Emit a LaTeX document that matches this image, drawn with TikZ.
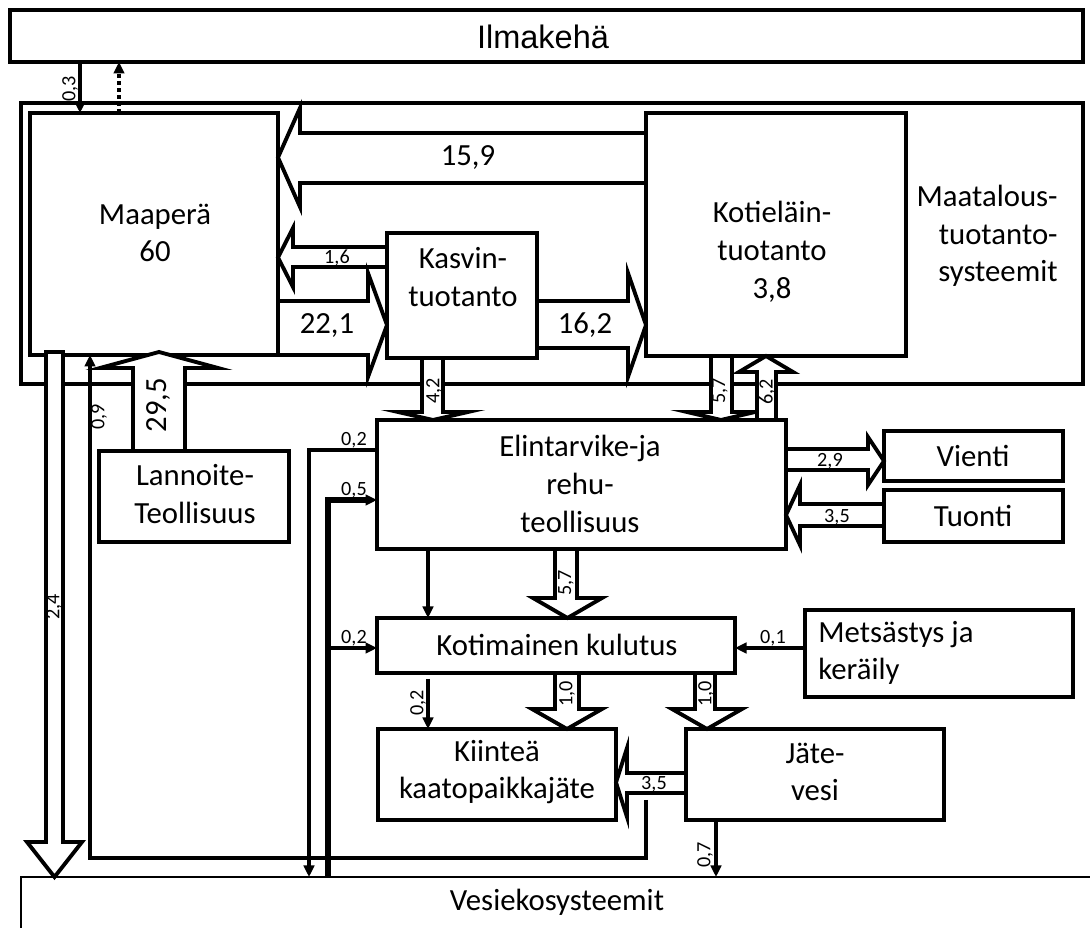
\documentclass[tikz,border=0pt]{standalone}
\usepackage{fontspec}
\setmainfont{Carlito}
\newfontfamily\arialf{Liberation Sans}
\usetikzlibrary{arrows.meta}
\newcommand{\mkbox}[6][]{%
  \pgfmathsetmacro\bxw{(#5-#3)*0.02}%
  \pgfmathsetmacro\bxh{(#6-#4)*0.02}%
  \node[box,#1, minimum width=\bxw cm, minimum height=\bxh cm] (#2) at (#3,#4) {};}
\newcommand{\hbarrow}[7]{\path[barrow] (#1,#4) -- (#2,#4) -- (#2,#6) -- (#3,{(#6+#7)/2}) -- (#2,#7) -- (#2,#5) -- (#1,#5) -- cycle;}
\newcommand{\vbarrow}[7]{\path[barrow] (#4,#1) -- (#4,#2) -- (#6,#2) -- ({(#6+#7)/2},#3) -- (#7,#2) -- (#5,#2) -- (#5,#1) -- cycle;}
\begin{document}
\begin{tikzpicture}[x=0.02cm,y=-0.02cm,
  box/.style={draw, line width=2.3pt, anchor=north west, inner sep=0pt, outer sep=0pt},
  barrow/.style={draw, fill=white, line width=2.2pt, line join=miter},
  thinarr/.style={line width=2.1pt, -{Triangle[length=2.3mm,width=2.1mm]}},
  txt/.style={font=\fontsize{17.5}{21.5}\selectfont, align=center, inner sep=0pt},
  lbl/.style={font=\fontsize{11.5}{13}\selectfont, inner sep=0pt},
  biglbl/.style={font=\fontsize{17.5}{21}\selectfont, inner sep=0pt}]
\useasboundingbox (0,0) rectangle (1090,928);
% boxes
\mkbox[line width=2.1pt]{maat}{21}{103}{1083}{384}
\mkbox[line width=2.1pt]{ilma}{10}{10}{1083}{62}
\mkbox{maap}{30}{113}{278}{355}
\mkbox{koti}{646}{113}{906}{356}
\mkbox{kasv}{387}{233}{537}{358}
\mkbox{elin}{377}{420}{786}{549}
\mkbox{vien}{884}{431}{1063}{481}
\mkbox{tuon}{884}{490}{1063}{542}
\mkbox{lann}{99}{451}{289}{542}
\mkbox{kotm}{377}{618}{735}{673}
\mkbox{mets}{805}{610}{1073}{697}
\mkbox{kiin}{378}{729}{616}{820}
\mkbox{jate}{686}{729}{944}{820}
\mkbox[line width=1.5pt]{vesi}{21}{877}{1110}{960}
% block arrows
\hbarrow{646}{300}{278}{133}{183}{108}{207}
\hbarrow{387}{293}{278}{247}{267}{228}{287}
\hbarrow{278}{368}{387}{301}{355}{273}{377}
\hbarrow{537}{628}{646}{301}{348}{273}{377}
\hbarrow{786}{868}{884}{449}{470}{437}{485}
\hbarrow{884}{800}{786}{504}{526}{485}{545}
\hbarrow{686}{627}{616}{773}{793}{748}{817}
\vbarrow{358}{412}{420}{422}{443}{398}{468}
\vbarrow{356}{412}{420}{711}{732}{687}{755}
\vbarrow{420}{372}{356}{757}{776}{739}{793}
\vbarrow{451}{368}{352}{133}{185}{100}{218}
\vbarrow{352}{842}{877}{46}{63}{27}{82}
\vbarrow{549}{598}{618}{555}{577}{533}{602}
\vbarrow{673}{709}{729}{555}{579}{532}{602}
\vbarrow{673}{709}{729}{695}{715}{672}{742}
% thin connectors
\coordinate (x03) at (80,0);
\coordinate (xdot) at (119,0);
\coordinate (s09) at (646,800);
\coordinate (c09) at (90,858);
\coordinate (c02) at (309,450);
\coordinate (c05) at (328,500);
\coordinate (c02b) at (328,648);
\coordinate (x428) at (428,0);
\coordinate (s02c) at (428,679);
\coordinate (c01) at (805,648);
\coordinate (x716) at (716,0);
\draw[thinarr] (ilma.south -| x03) -- (maap.north -| x03);
\draw[line width=2.1pt, dash pattern=on 2.3pt off 1.7pt, -{Triangle[length=2.3mm,width=2.1mm]}] (maap.north -| xdot) -- (ilma.south -| xdot);
\draw[thinarr] (s09) |- (c09) -- (maap.south -| c09);
\draw[thinarr] (elin.west |- c02) -| (vesi.north -| c02);
\draw[thinarr, line width=3pt] (vesi.north -| c05) |- (elin.west |- c05);
\draw[thinarr] (c02b) -- (kotm.west |- c02b);
\draw[thinarr] (elin.south -| x428) -- (kotm.north -| x428);
\draw[thinarr] (s02c) -- (kiin.north -| s02c);
\draw[thinarr] (mets.west |- c01) -- (kotm.east |- c01);
\draw[thinarr] (jate.south -| x716) -- (vesi.north -| x716);
% box texts
\node[txt, font=\arialf\fontsize{18.5}{21}\selectfont] (ilmat) at (543,37) {Ilmakehä};
\node[txt] (maapt) at (155,233) {Maaperä\\60};
\node[txt] (kotit) at (772,252) {Kotieläin-\\tuotanto\\3,8};
\node[txt] (kasvt) at (463,277) {Kasvin-\\tuotanto};
\node[txt, align=right, anchor=east] (maatt) at (1058,236) {Maatalous-\\tuotanto-\\systeemit};
\node[txt] (elint) at (580,484) {Elintarvike-ja\\rehu-\\teollisuus};
\node[txt] (lannt) at (195,494) {Lannoite-\\Teollisuus};
\node[txt] (vient) at (973,456) {Vienti};
\node[txt] (tuont) at (973,516) {Tuonti};
\node[txt] (kotmt) at (557,645) {Kotimainen kulutus};
\node[txt, align=left, anchor=west] (metst) at (818,653) {Metsästys ja\\keräily};
\node[txt] (kiint) at (497,772) {Kiinteä\\kaatopaikkajäte};
\node[txt] (jatet) at (815,772) {Jäte-\\vesi};
\node[txt] (vesit) at (557,902) {Vesiekosysteemit};
% flow labels
\node[biglbl] (l159) at (468,157) {15,9};
\node[biglbl] (l221) at (327,325) {22,1};
\node[biglbl] (l162) at (585,325) {16,2};
\node[biglbl, rotate=90] (l295) at (158,405) {29,5};
\node[lbl] (l16) at (337,258) {1,6};
\node[lbl] (l29) at (830,461) {2,9};
\node[lbl] (l35a) at (837,517) {3,5};
\node[lbl] (l35b) at (654,784) {3,5};
\node[lbl] (l02a) at (354,440) {0,2};
\node[lbl] (l05) at (354,490) {0,5};
\node[lbl] (l02b) at (354,638) {0,2};
\node[lbl] (l01) at (773,638) {0,1};
\node[lbl, rotate=90] (l03) at (70,89) {0,3};
\node[lbl, rotate=90] (l42) at (434,391) {4,2};
\node[lbl, rotate=90] (l57a) at (720,391) {5,7};
\node[lbl, rotate=90] (l62) at (767,392) {6,2};
\node[lbl, rotate=90] (l09) at (99,417) {0,9};
\node[lbl, rotate=90] (l24) at (54,607) {2,4};
\node[lbl, rotate=90] (l57b) at (566,583) {5,7};
\node[lbl, rotate=90] (l02c) at (418,703) {0,2};
\node[lbl, rotate=90] (l10a) at (567,694) {1,0};
\node[lbl, rotate=90] (l10b) at (706,694) {1,0};
\node[lbl, rotate=90] (l07) at (705,855) {0,7};
\end{tikzpicture}
\end{document}
